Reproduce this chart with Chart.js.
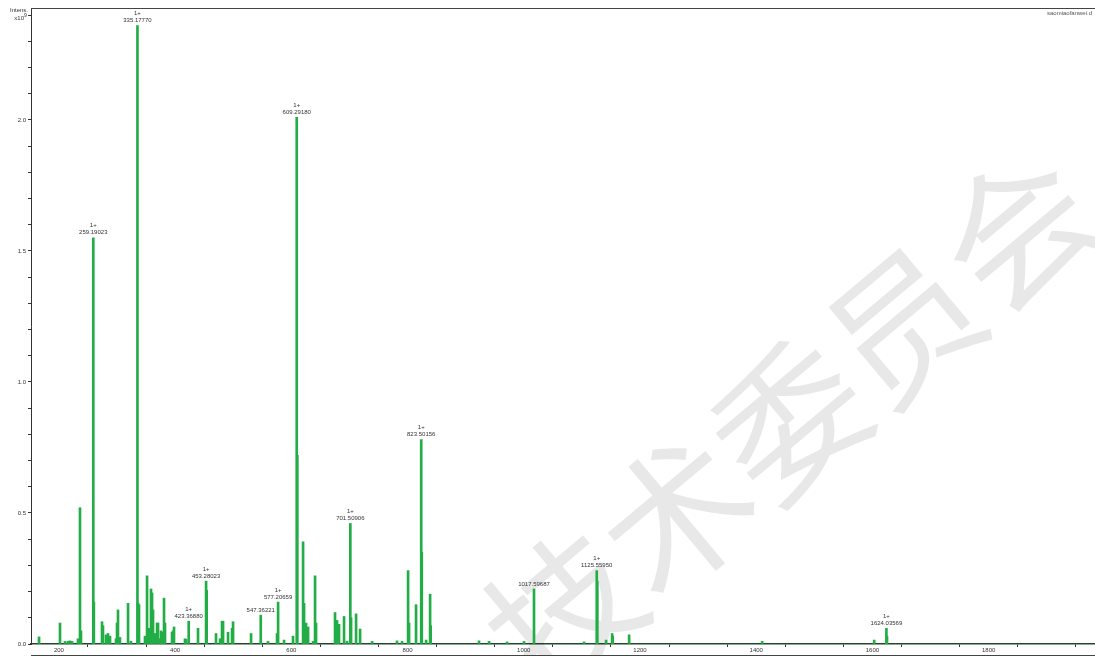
<!DOCTYPE html>
<html lang="en">
<head>
    <meta charset="UTF-8">
    <title>saomiaofanwei.d</title>
    <script src="https://cdn.jsdelivr.net/npm/chart.js@4"></script>
    <style>
        body { margin: 0; background: #fff; }
        canvas { display: block; }
    </style>
</head>
<body>
    <canvas id="spectrum" width="1095" height="656"></canvas>

    <script>
        // m/z of every stick and its intensity (x10^9)
        const peakMz = [
            165.8, 201.9, 210.5, 215.7, 219.0, 222.6, 232.9, 236.3, 238.0,
            259.19, 260.2, 274.2, 275.9, 281.1, 284.5, 288.0, 298.3, 300.0, 301.7, 305.1,
            319.0, 324.0, 335.18, 336.2, 337.9, 348.2, 351.7, 355.1, 358.5, 360.3, 362.0,
            365.4, 368.9, 370.6, 374.0, 375.8, 377.5, 380.9, 382.6, 394.7, 396.4, 398.1,
            417.0, 418.8, 423.37, 439.4, 453.28, 454.3, 470.4, 477.3, 480.7, 482.5,
            491.1, 498.0, 499.7, 530.7, 547.36, 559.9, 575.4, 577.21, 587.5, 602.9,
            609.29, 610.3, 620.2, 621.9, 625.3, 628.8, 637.4, 640.8, 642.5,
            675.2, 677.0, 678.7, 682.1, 690.7, 695.9, 701.51, 702.8, 711.4, 718.3,
            739.0, 781.9, 790.5, 800.9, 802.6, 814.6, 823.5, 824.5, 831.9, 838.8, 839.8,
            923.0, 940.3, 971.3, 1000.5, 1017.6, 1103.8, 1125.56, 1126.56, 1141.7,
            1152.0, 1153.0, 1181.3, 1410.2, 1603.0, 1624.04, 1625.04
        ];
        const peakInt = [
            0.027, 0.08, 0.01, 0.01, 0.012, 0.01, 0.02, 0.52, 0.05,
            1.55, 0.16, 0.085, 0.07, 0.035, 0.04, 0.03, 0.02, 0.08, 0.13, 0.025,
            0.155, 0.01, 2.36, 0.156, 0.15, 0.03, 0.26, 0.06, 0.21, 0.195, 0.13,
            0.04, 0.08, 0.08, 0.02, 0.05, 0.045, 0.175, 0.08, 0.045, 0.05, 0.065,
            0.02, 0.018, 0.087, 0.06, 0.24, 0.205, 0.04, 0.02, 0.087, 0.087,
            0.045, 0.06, 0.085, 0.04, 0.11, 0.01, 0.04, 0.16, 0.015, 0.03,
            2.01, 0.72, 0.39, 0.155, 0.08, 0.065, 0.01, 0.26, 0.08,
            0.12, 0.09, 0.09, 0.075, 0.105, 0.01, 0.46, 0.1, 0.115, 0.057,
            0.01, 0.012, 0.01, 0.28, 0.08, 0.15, 0.78, 0.35, 0.015, 0.19, 0.07,
            0.012, 0.01, 0.008, 0.01, 0.21, 0.008, 0.28, 0.24, 0.015,
            0.04, 0.03, 0.035, 0.01, 0.015, 0.06, 0.03
        ];

        // annotated peaks
        const labelMz     = [259.19, 335.18, 423.37, 453.28, 547.36, 577.21, 609.29, 701.51, 823.5, 1017.6, 1125.56, 1624.04];
        const labelText   = ['259.19023', '335.17770', '423.36880', '453.28023', '547.36221', '577.20659',
                             '609.29180', '701.50906', '823.50156', '1017.59687', '1125.55950', '1624.03569'];
        const labelCharge = ['1+', '1+', '1+', '1+', '', '1+', '1+', '1+', '1+', '', '1+', '1+'];

        const xTickValues = [200, 300, 400, 500, 600, 700, 800, 900, 1000, 1100, 1200, 1300, 1400, 1500, 1600, 1700, 1800, 1900];
        const yTickValues = [0, 0.1, 0.2, 0.3, 0.4, 0.5, 0.6, 0.7, 0.8, 0.9, 1.0, 1.1, 1.2,
                             1.3, 1.4, 1.5, 1.6, 1.7, 1.8, 1.9, 2.0, 2.1, 2.2, 2.3, 2.4];

        const smallFont = "6px 'Liberation Sans'";

        const watermark = {
            id: 'watermark',
            beforeDatasetsDraw(chart) {
                const c = chart.ctx;
                c.save();
                c.translate(790, 420);
                c.rotate(-40 * Math.PI / 180);
                c.font = "148px 'Noto Sans CJK SC'";
                c.fillStyle = 'rgba(0,0,0,0.09)';
                c.textAlign = 'center';
                c.textBaseline = 'middle';
                c.fillText('技术委员会', 0, 0);
                c.restore();
            }
        };

        const annotations = {
            id: 'annotations',
            afterDraw(chart) {
                const c = chart.ctx;
                const xs = chart.scales.x, ys = chart.scales.y;
                const area = chart.chartArea;
                c.save();
                c.font = smallFont;
                c.fillStyle = '#333';
                c.textAlign = 'center';
                c.textBaseline = 'middle';
                labelMz.forEach((m, i) => {
                    const idx = peakMz.indexOf(m);
                    const px = xs.getPixelForValue(m);
                    const py = ys.getPixelForValue(peakInt[idx]);
                    c.fillText(labelText[i], px, py - 5);
                    if (labelCharge[i]) c.fillText(labelCharge[i], px, py - 12);
                });

                // frame lines
                c.strokeStyle = '#444';
                c.lineWidth = 1;
                c.beginPath();
                c.moveTo(area.left, area.top + 0.5);
                c.lineTo(chart.width, area.top + 0.5);
                c.moveTo(area.left, 655.5);
                c.lineTo(chart.width, 655.5);
                c.stroke();

                // axis title
                c.textAlign = 'right';
                c.fillStyle = '#333';
                c.fillText('Intens.', 28, 10);
                c.fillText('x10', 24, 18);
                c.font = "5px 'Liberation Sans'";
                c.textAlign = 'left';
                c.fillText('9', 24, 16);

                // file name
                c.font = smallFont;
                c.textAlign = 'right';
                c.fillStyle = '#555';
                c.fillText('saomiaofanwei.d', 1092, 13);
                c.restore();
            }
        };

        new Chart(document.getElementById('spectrum'), {
            type: 'bar',
            data: {
                datasets: [{
                    data: peakMz.map((m, i) => ({ x: m, y: peakInt[i] })),
                    backgroundColor: '#22ad46',
                    borderWidth: 0,
                    barThickness: 2
                }]
            },
            options: {
                responsive: false,
                animation: false,
                layout: { padding: { top: 8, left: 0, right: 0, bottom: 0 } },
                plugins: { legend: { display: false }, tooltip: { enabled: false } },
                scales: {
                    x: {
                        type: 'linear',
                        min: 152,
                        max: 1983,
                        offset: false,
                        afterFit: s => { s.height = 12; },
                        afterBuildTicks: s => { s.ticks = xTickValues.map(v => ({ value: v })); },
                        grid: { drawOnChartArea: false, drawTicks: true, tickLength: 3, tickColor: '#333' },
                        border: { color: '#1f4a28', width: 1.5 },
                        ticks: {
                            autoSkip: false, maxRotation: 0, padding: 0, color: '#333',
                            font: { size: 6, family: 'Liberation Sans' },
                            callback: v => (v % 200 === 0 ? String(v) : '')
                        }
                    },
                    y: {
                        min: 0,
                        max: 2.427,
                        afterFit: s => { s.width = 31; },
                        afterBuildTicks: s => { s.ticks = yTickValues.map(v => ({ value: v })); },
                        grid: { drawOnChartArea: false, drawTicks: true, tickLength: 3, tickColor: '#333' },
                        border: { color: '#333', width: 1 },
                        ticks: {
                            autoSkip: false, padding: 2, color: '#333',
                            font: { size: 6, family: 'Liberation Sans' },
                            callback: v => (Math.round(v * 10) % 5 === 0 ? v.toFixed(1) : '')
                        }
                    }
                }
            },
            plugins: [watermark, annotations]
        });
    </script>
</body>
</html>
